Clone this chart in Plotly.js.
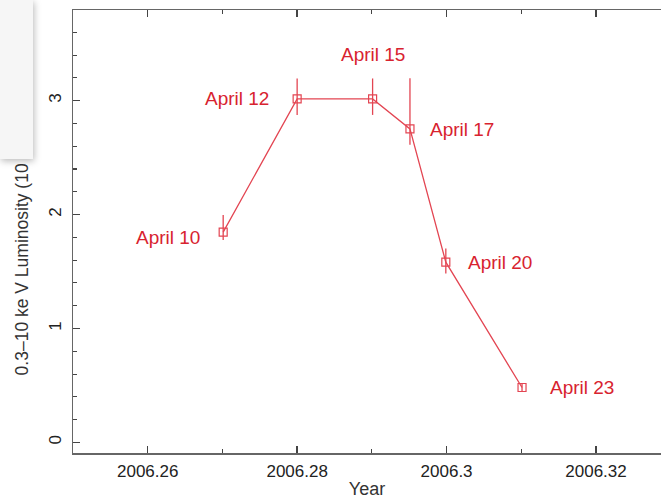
<!DOCTYPE html>
<html>
<head>
<meta charset="utf-8">
<script src="https://cdn.plot.ly/plotly-3.0.1.min.js"></script>
<style>
  html, body { margin: 0; padding: 0; background: #fff; }
  #wrap { position: relative; width: 661px; height: 499px; overflow: hidden; }
  #chart { width: 661px; height: 499px; }
  #overlay { position: absolute; left: 0; top: 0; width: 33px; height: 159px;
             background: #f6f6f6; box-shadow: 1px 2px 7px rgba(0,0,0,0.28); }
</style>
</head>
<body>
<div id="wrap">
  <div id="chart"></div>
  <div id="overlay"></div>
</div>
<script>
// ---- data ----
const years      = [2006.2701, 2006.2800, 2006.2901, 2006.2951, 2006.2999, 2006.3101];
const luminosity = [1.846, 3.015, 3.015, 2.752, 1.582, 0.482];
const errPlus    = [0.15, 0.18, 0.18, 0.445, 0.12, 0.03];
const errMinus   = [0.07, 0.14, 0.14, 0.14, 0.10, 0.03];
const dateLabels = ['April 10', 'April 12', 'April 15', 'April 17', 'April 20', 'April 23'];
const xTickVals  = [2006.26, 2006.28, 2006.30, 2006.32];
const xTickText  = ['2006.26', '2006.28', '2006.3', '2006.32'];
const yTickVals  = [0, 1, 2, 3];
const yTickText  = ['0', '1', '2', '3'];

// ---- label placement (styling, not data) ----
const labelPlace = [
  {xanchor: 'right',  xshift: -21, yshift: -5},
  {xanchor: 'right',  xshift: -26, yshift: 0},
  {xanchor: 'center', xshift: 0,   yshift: 44},
  {xanchor: 'left',   xshift: 18,  yshift: -1},
  {xanchor: 'left',   xshift: 20,  yshift: 0},
  {xanchor: 'left',   xshift: 26,  yshift: 0}
];

const lineColor = '#e34552';
const textColor = '#d8232f';
const axisColor = '#666666';
const font = 'Liberation Sans, Arial, Helvetica, sans-serif';

const trace = {
  x: years,
  y: luminosity,
  type: 'scatter',
  mode: 'lines+markers',
  line: {color: lineColor, width: 1.3},
  marker: {symbol: 'square-open', size: 8, color: lineColor, line: {width: 1.2, color: lineColor}},
  error_y: {type: 'data', symmetric: false, array: errPlus, arrayminus: errMinus,
            color: lineColor, thickness: 1.3, width: 0},
  hoverinfo: 'x+y'
};

const annotations = dateLabels.map((t, i) => ({
  x: years[i], y: luminosity[i], xref: 'x', yref: 'y',
  text: t, showarrow: false,
  xanchor: labelPlace[i].xanchor, yanchor: 'middle',
  xshift: labelPlace[i].xshift, yshift: labelPlace[i].yshift,
  font: {family: font, size: 19, color: textColor}
}));

annotations.push({
  xref: 'paper', yref: 'paper', x: -0.0872, y: 0.170,
  xanchor: 'center', yanchor: 'bottom', textangle: -90,
  text: '0.3–10 ke V Luminosity (10', showarrow: false,
  font: {family: font, size: 17.5, color: '#333333'}
});

const layout = {
  width: 661, height: 499,
  margin: {l: 73, r: 0, t: 10, b: 46, pad: 0},
  paper_bgcolor: '#ffffff', plot_bgcolor: '#ffffff',
  showlegend: false,
  font: {family: font, color: '#222222'},
  xaxis: {
    range: [2006.25, 2006.3287],
    tickmode: 'array', tickvals: xTickVals, ticktext: xTickText,
    ticks: 'inside', ticklen: 7, tickwidth: 1.3, tickcolor: '#444',
    minor: {dtick: 0.01, tick0: 2006.25, ticks: 'inside', ticklen: 4, tickwidth: 1.1, tickcolor: '#444'},
    showline: true, linecolor: axisColor, linewidth: 1.5, mirror: 'allticks',
    showgrid: false, zeroline: false,
    tickfont: {family: font, size: 17, color: '#222'},
    ticklabelstandoff: 2,
    title: {text: 'Year', font: {family: font, size: 18, color: '#333'}, standoff: 4}
  },
  yaxis: {
    range: [-0.093, 3.796],
    tickmode: 'array', tickvals: yTickVals, ticktext: yTickText,
    ticks: 'inside', ticklen: 7, tickwidth: 1.3, tickcolor: '#444',
    minor: {dtick: 0.2, tick0: 0, ticks: 'inside', ticklen: 4, tickwidth: 1.1, tickcolor: '#444'},
    showline: true, linecolor: axisColor, linewidth: 1.5, mirror: false,
    showgrid: false, zeroline: false, tickangle: -90,
    tickfont: {family: font, size: 17, color: '#222'},
    ticklabelstandoff: 4
  },
  annotations: annotations
};

Plotly.newPlot('chart', [trace], layout, {displayModeBar: false, staticPlot: true});
</script>
</body>
</html>
